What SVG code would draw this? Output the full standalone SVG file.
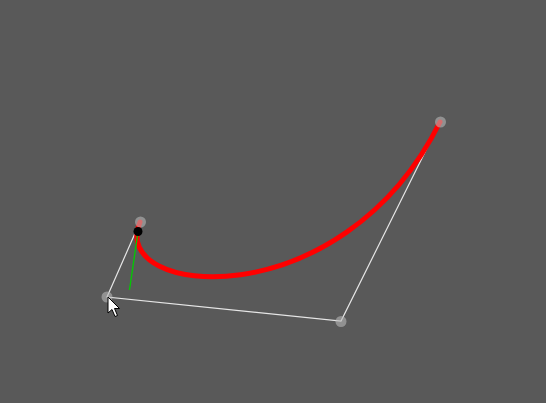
<svg xmlns="http://www.w3.org/2000/svg" width="546" height="403" viewBox="0 0 546 403">
<style>
.poly{fill:none;stroke:#e6e6e6;stroke-width:1.2}
.pt{fill:#b8b8b8;fill-opacity:0.6}
</style>
<rect width="546" height="403" fill="#595959"/>
<g id="connectors">
<polyline class="poly" points="140,222 107,297 341,321 440,122"/>
<path d="M140,222 C107,297 341,321 440,122" fill="none" stroke="#ff0000" stroke-width="5" stroke-linecap="round"/>
<line x1="138" y1="232" x2="129.5" y2="290" stroke="#00cc00" stroke-width="1.3"/>
</g>
<g id="p0"><circle class="pt" cx="140.5" cy="222" r="5.5"/></g>
<g id="p1"><circle class="pt" cx="107" cy="297" r="5.5"/></g>
<g id="p2"><circle class="pt" cx="341" cy="321.5" r="5.5"/></g>
<g id="p3"><circle class="pt" cx="440.5" cy="122" r="5.5"/></g>
<g id="marker"><circle cx="138" cy="231.5" r="4.5" fill="#000"/></g>
<g id="cursor"><polygon points="108,297 108,313 112,309.5 115,316.5 117.5,315.5 114.5,308.5 119.5,308.5" fill="#fff" stroke="#000" stroke-width="1" stroke-linejoin="round"/></g>
</svg>
